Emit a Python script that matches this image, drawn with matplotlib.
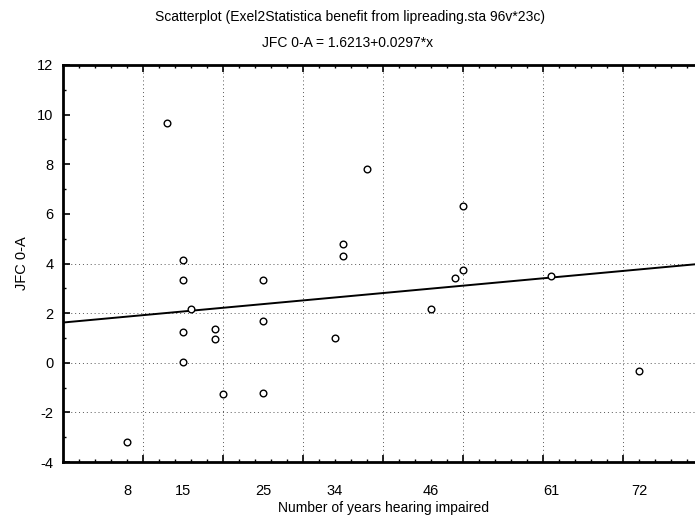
import matplotlib
matplotlib.use('Agg')
import matplotlib.pyplot as plt
import numpy as np

plt.rcParams['font.family'] = ['Liberation Sans', 'DejaVu Sans']
plt.rcParams['axes.unicode_minus'] = False

# data
years = [13, 15, 15, 16, 15, 19, 19, 15, 20, 8,
         38, 50, 35, 35, 25, 50, 49, 46, 25, 34, 25,
         61, 72]
jfc = [9.65, 4.15, 3.35, 2.15, 1.25, 1.35, 0.95, 0.05, -1.25, -3.2,
       7.8, 6.3, 4.8, 4.3, 3.35, 3.75, 3.4, 2.15, 1.7, 1.0, -1.2,
       3.5, -0.35]
intercept = 1.6213
slope = 0.0297
xtick_labels = [8, 15, 25, 34, 46, 61, 72]
yticks = [-4, -2, 0, 2, 4, 6, 8, 10, 12]
ygrid = [-2, 0, 2, 4]

fig = plt.figure(figsize=(6.95, 5.24), dpi=100, facecolor='white')
ax = fig.add_axes([63/695, 1 - 462/524, 1 - 63/695, (462 - 65)/524])

xlo, xhi = 0, 79
ax.set_xlim(xlo, xhi)
ax.set_ylim(-4, 12)

# grid (dotted, as in the scan)
for gx in range(10, 80, 10):
    ax.axvline(gx, color='#555555', lw=0.7, ls=(0, (1, 3)), zorder=0)
for gy in ygrid:
    ax.axhline(gy, color='#555555', lw=0.7, ls=(0, (1, 3)), zorder=0)

# regression line
xl = np.array([xlo, xhi])
ax.plot(xl, intercept + slope * xl, color='black', lw=1.4, zorder=2)

# points
ax.plot(years, jfc, ls='none', marker='o', ms=4.8, mfc='white', mec='black',
        mew=1.0, zorder=3)

# axes styling
for s in ['left', 'bottom', 'top']:
    ax.spines[s].set_linewidth(2.0)
ax.spines['right'].set_visible(False)

ax.set_xticks(range(10, 80, 10))
ax.set_xticks(range(2, 80, 2), minor=True)
ax.set_xticklabels([])
ax.set_yticks(yticks)
ax.set_yticks(range(-3, 12, 2), minor=True)
ax.tick_params(axis='both', which='major', direction='in', length=5, width=1.2,
               top=True, right=False)
ax.tick_params(axis='both', which='minor', direction='in', length=2.5, width=1.0,
               top=True, right=False)
ax.tick_params(axis='y', labelsize=10.5, pad=7)

sec = ax.secondary_xaxis('bottom')
sec.set_xticks(xtick_labels, [str(v) for v in xtick_labels])
sec.tick_params(length=0, pad=16, labelsize=10.5)
sec.spines['bottom'].set_visible(False)

ax.set_ylabel('JFC 0-A', fontsize=10.5, labelpad=6)
fig.text(384/695, 1 - 508/524, 'Number of years hearing impaired',
         ha='center', va='center', fontsize=10)

fig.text(350/695, 1 - 17/524,
         'Scatterplot (Exel2Statistica benefit from lipreading.sta 96v*23c)',
         ha='center', va='center', fontsize=10)
fig.text(348/695, 1 - 43/524, 'JFC 0-A = 1.6213+0.0297*x',
         ha='center', va='center', fontsize=10)

fig.savefig('out.png', dpi=100, facecolor='white')
